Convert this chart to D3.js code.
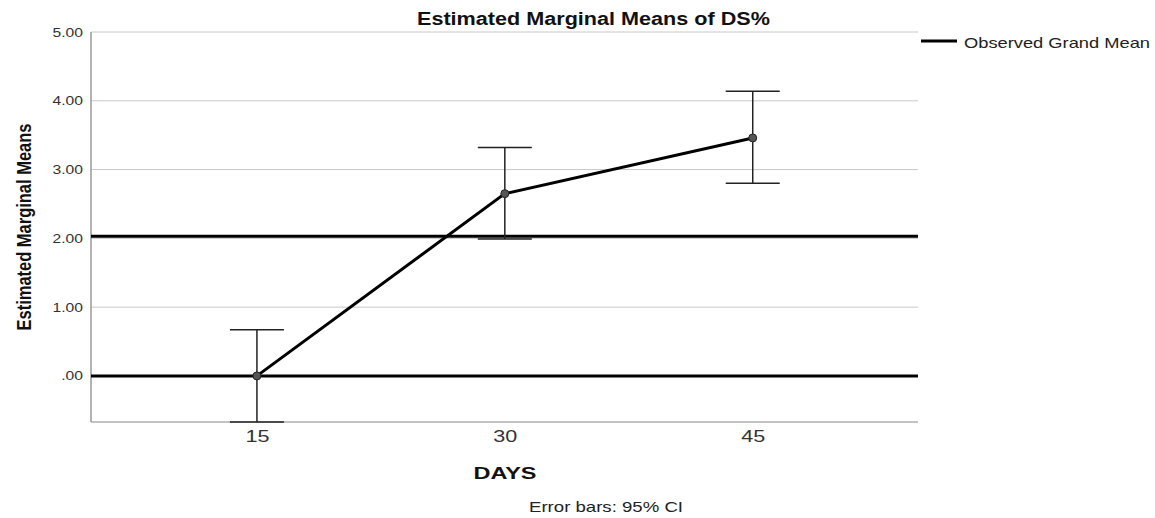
<!DOCTYPE html>
<html><head><meta charset="utf-8">
<script src="https://cdn.jsdelivr.net/npm/d3@7"></script>
<style>body{margin:0;background:#fff}svg{display:block}</style>
</head><body>
<svg id="c" width="1155" height="518"></svg>
<script>
const days = [15, 30, 45];
const means = [0.0, 2.65, 3.46];
const ciLow = [-0.67, 1.99, 2.80];
const ciHigh = [0.67, 3.32, 4.14];
const grandMean = 2.03;
const zeroLine = 0;
const yTicks = [0, 1, 2, 3, 4, 5];
const yTickLabels = [".00", "1.00", "2.00", "3.00", "4.00", "5.00"];

const svg = d3.select("#c");
const FONT = "Liberation Sans, Arial, sans-serif";
const L = 91, R = 918, T = 32, B = 422;
const x = d3.scaleLinear().domain([4.96, 55]).range([L, R]);
const y = d3.scaleLinear().domain([-0.67, 5]).range([B, T]);

function stretch(sel, k) {
  sel.each(function () {
    const w = this.getComputedTextLength();
    d3.select(this).attr("textLength", w * k).attr("lengthAdjust", "spacingAndGlyphs");
  });
}

// gridlines
svg.append("g").selectAll("line").data(yTicks).join("line")
  .attr("x1", L).attr("x2", R).attr("y1", d => y(d)).attr("y2", d => y(d))
  .attr("stroke", "#c8c8c8").attr("stroke-width", 1);

// axes lines
svg.append("line").attr("x1", L).attr("x2", L).attr("y1", T).attr("y2", B)
  .attr("stroke", "#999").attr("stroke-width", 1.5);
svg.append("line").attr("x1", L).attr("x2", R).attr("y1", B).attr("y2", B)
  .attr("stroke", "#888").attr("stroke-width", 1.2);

// y tick labels
const yAxis = d3.axisLeft(y).tickValues(yTicks).tickSize(0).tickPadding(8)
  .tickFormat((d, i) => yTickLabels[i]);
const gy = svg.append("g").attr("transform", `translate(${L},0)`).call(yAxis);
gy.select(".domain").remove();
gy.selectAll("text").attr("font-family", FONT)
  .attr("font-size", 12.5).attr("fill", "#333").call(stretch, 1.25);

// x tick labels
const xAxis = d3.axisBottom(x).tickValues(days).tickSize(0).tickPadding(9)
  .tickFormat(d3.format("d"));
const gx = svg.append("g").attr("transform", `translate(0,${B})`).call(xAxis);
gx.select(".domain").remove();
gx.selectAll("text").attr("font-family", FONT)
  .attr("font-size", 16).attr("fill", "#333").call(stretch, 1.35);

// reference lines
[grandMean, zeroLine].forEach(v => {
  svg.append("line").attr("x1", L).attr("x2", R).attr("y1", y(v)).attr("y2", y(v))
    .attr("stroke", "#000").attr("stroke-width", 3);
});

// error bars
const data = days.map((d, i) => ({d, m: means[i], lo: ciLow[i], hi: ciHigh[i]}));
const eb = svg.append("g").attr("stroke", "#222").attr("stroke-width", 1.5);
eb.selectAll(".v").data(data).join("line")
  .attr("x1", d => x(d.d)).attr("x2", d => x(d.d))
  .attr("y1", d => y(d.lo)).attr("y2", d => y(d.hi));
eb.selectAll(".t").data(data).join("line")
  .attr("x1", d => x(d.d) - 27).attr("x2", d => x(d.d) + 27)
  .attr("y1", d => y(d.hi)).attr("y2", d => y(d.hi));
eb.selectAll(".b").data(data).join("line")
  .attr("x1", d => x(d.d) - 27).attr("x2", d => x(d.d) + 27)
  .attr("y1", d => y(d.lo)).attr("y2", d => y(d.lo));

// means line
svg.append("path").datum(data)
  .attr("d", d3.line().x(d => x(d.d)).y(d => y(d.m)))
  .attr("fill", "none").attr("stroke", "#000").attr("stroke-width", 3);

svg.append("g").selectAll("circle").data(data).join("circle")
  .attr("cx", d => x(d.d)).attr("cy", d => y(d.m)).attr("r", 4)
  .attr("fill", "#555").attr("stroke", "#222").attr("stroke-width", 1);

// title
svg.append("text").attr("x", 417).attr("y", 25)
  .attr("font-family", FONT).attr("font-weight", "bold")
  .attr("font-size", 18).attr("fill", "#111").text("Estimated Marginal Means of DS%")
  .call(stretch, 1.2);

// y label
svg.append("text").attr("transform", `translate(31,227) rotate(-90)`)
  .attr("text-anchor", "middle")
  .attr("font-family", "Liberation Sans Narrow, Arial Narrow, sans-serif").attr("font-weight", "bold")
  .attr("font-size", 21).attr("fill", "#111").text("Estimated Marginal Means")
  .attr("textLength", 207).attr("lengthAdjust", "spacingAndGlyphs");

// x label
svg.append("text").attr("x", 505).attr("y", 479).attr("text-anchor", "middle")
  .attr("font-family", FONT).attr("font-weight", "bold")
  .attr("font-size", 16).attr("fill", "#111").text("DAYS")
  .attr("textLength", 63).attr("lengthAdjust", "spacingAndGlyphs");

// footnote
svg.append("text").attr("x", 529).attr("y", 512)
  .attr("font-family", FONT)
  .attr("font-size", 15).attr("fill", "#222").text("Error bars: 95% CI")
  .attr("textLength", 154).attr("lengthAdjust", "spacingAndGlyphs");

// legend
svg.append("line").attr("x1", 921).attr("x2", 957).attr("y1", 41).attr("y2", 41)
  .attr("stroke", "#000").attr("stroke-width", 3);
svg.append("text").attr("x", 964).attr("y", 48)
  .attr("font-family", FONT)
  .attr("font-size", 15).attr("fill", "#222").text("Observed Grand Mean")
  .attr("textLength", 186).attr("lengthAdjust", "spacingAndGlyphs");
</script>
</body></html>
